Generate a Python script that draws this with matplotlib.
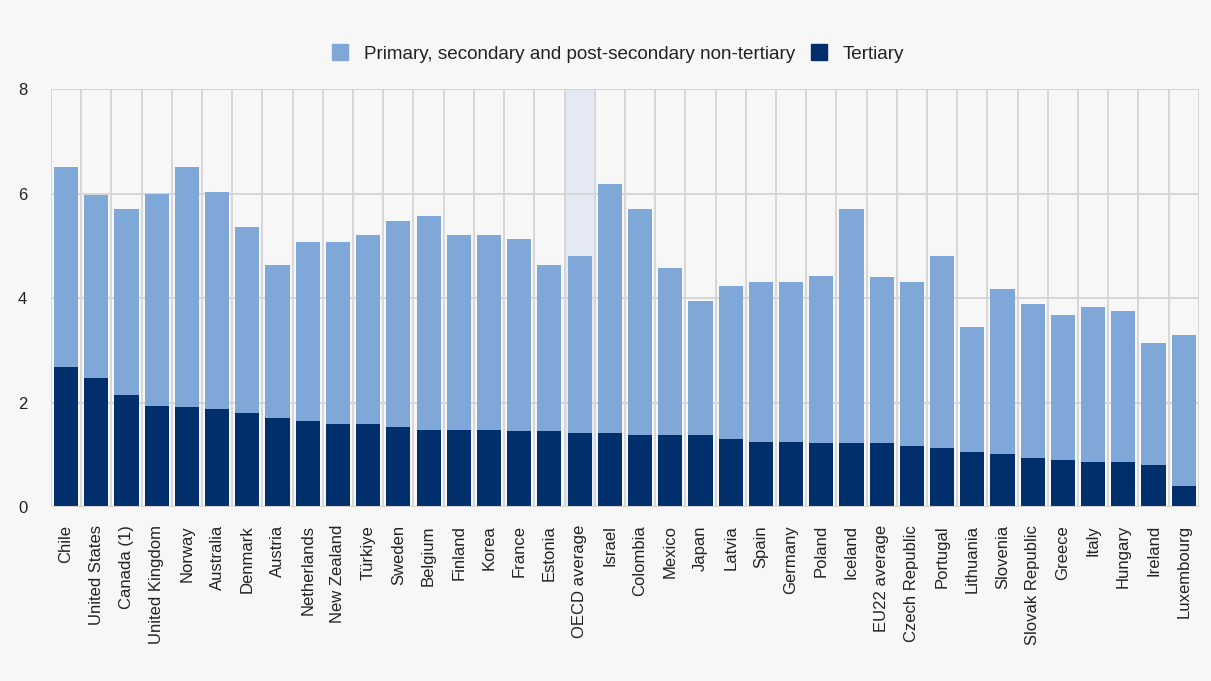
import matplotlib.pyplot as plt
from matplotlib.lines import Line2D
import numpy as np

plt.rcParams['font.family'] = ['Liberation Sans', 'DejaVu Sans']

countries = ['Chile', 'United States', 'Canada (1)', 'United Kingdom', 'Norway', 'Australia',
             'Denmark', 'Austria', 'Netherlands', 'New Zealand', 'Türkiye', 'Sweden', 'Belgium',
             'Finland', 'Korea', 'France', 'Estonia', 'OECD average', 'Israel', 'Colombia',
             'Mexico', 'Japan', 'Latvia', 'Spain', 'Germany', 'Poland', 'Iceland', 'EU22 average',
             'Czech Republic', 'Portugal', 'Lithuania', 'Slovenia', 'Slovak Republic', 'Greece',
             'Italy', 'Hungary', 'Ireland', 'Luxembourg']
# total expenditure (top of stacked bar) and tertiary part
total = [6.51, 5.97, 5.70, 5.99, 6.51, 6.02, 5.36, 4.63, 5.07, 5.07, 5.21, 5.47, 5.56,
         5.21, 5.21, 5.13, 4.63, 4.81, 6.19, 5.70, 4.57, 3.94, 4.23, 4.31, 4.31, 4.43,
         5.70, 4.40, 4.31, 4.81, 3.44, 4.17, 3.88, 3.67, 3.82, 3.76, 3.13, 3.30]
tertiary = [2.67, 2.46, 2.14, 1.94, 1.91, 1.88, 1.80, 1.71, 1.65, 1.59, 1.59, 1.54, 1.48,
            1.48, 1.48, 1.45, 1.45, 1.42, 1.42, 1.37, 1.37, 1.37, 1.31, 1.25, 1.25, 1.22,
            1.22, 1.22, 1.16, 1.13, 1.05, 1.01, 0.93, 0.90, 0.87, 0.87, 0.81, 0.41]
primary = np.array(total) - np.array(tertiary)

light = '#7fa7d7'
dark = '#002f6c'
bg = '#f7f7f7'
gridc = '#d4d4d4'

fig = plt.figure(figsize=(12.11, 6.81), dpi=100, facecolor=bg)
ax = fig.add_axes([0.0421, 0.2555, 0.9479, 0.6138])
ax.set_facecolor(bg)

x = np.arange(len(countries))
hl = countries.index('OECD average')
ax.axvspan(hl - 0.5, hl + 0.5, color='#e4e9f4', zorder=0)

ax.bar(x, tertiary, width=0.8, color=dark, zorder=3)
ax.bar(x, primary, bottom=tertiary, width=0.8, color=light, zorder=3)

ax.set_xlim(-0.5, len(countries) - 0.5)
ax.set_ylim(0, 8)
ax.set_yticks([0, 2, 4, 6, 8])
for yy in [2, 4, 6, 8]:
    ax.axhline(yy, color=gridc, lw=1.3, zorder=1)
for b in np.arange(-0.5, len(countries), 1):
    ax.axvline(b, color=gridc, lw=1.3, zorder=1)
ax.axhline(0, color=gridc, lw=1.5, zorder=4)

for s in ax.spines.values():
    s.set_visible(False)

ax.set_xticks(x)
ax.set_xticklabels(countries, rotation=90, fontsize=12, color='#222222')
ax.tick_params(axis='x', length=0, pad=13)
ax.tick_params(axis='y', length=0, pad=17, labelsize=12, labelcolor='#222222')

handles = [Line2D([], [], marker='s', ls='', markersize=12, color=light),
           Line2D([], [], marker='s', ls='', markersize=12, color=dark)]
fig.legend(handles, ['Primary, secondary and post-secondary non-tertiary', 'Tertiary'],
           loc='center', bbox_to_anchor=(0.506, 0.92), ncol=2, frameon=False,
           fontsize=13.6, handletextpad=0.25, columnspacing=0.3, labelcolor='#222222')

fig.savefig('out.png', dpi=100, facecolor=bg)
